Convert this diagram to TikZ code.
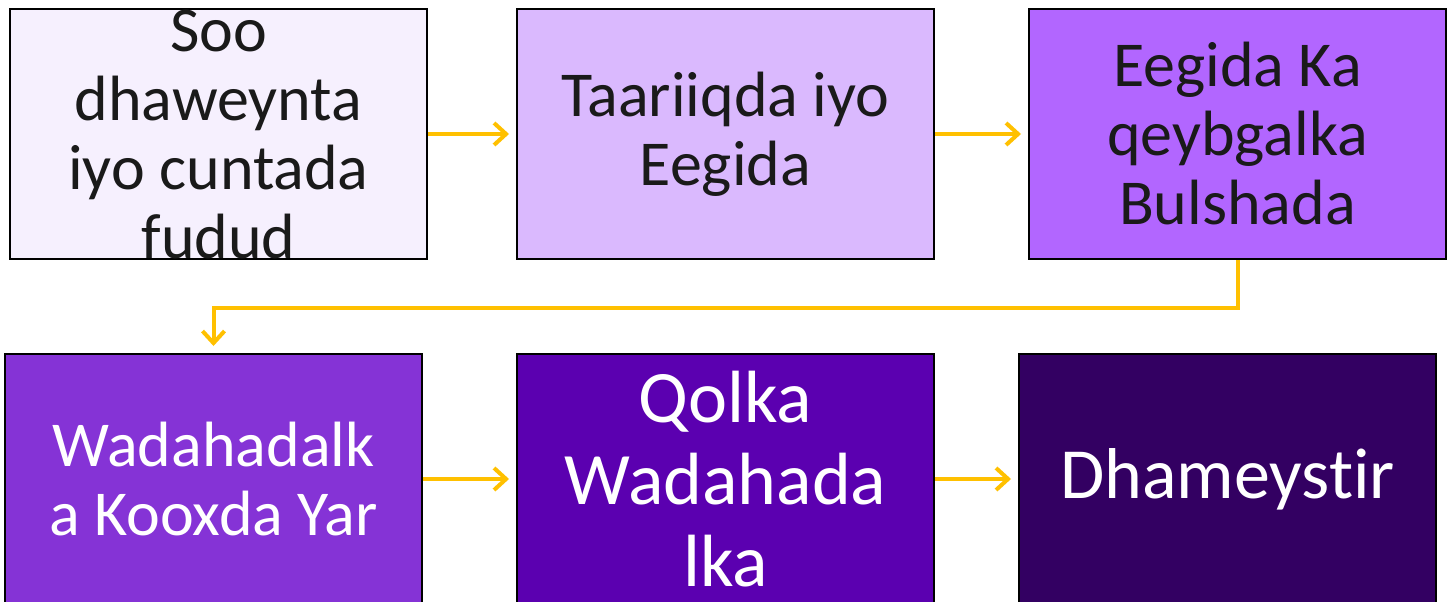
\documentclass[tikz,border=0pt]{standalone}
\usepackage{fontspec}
\setmainfont[RawFeature={-liga;-clig}]{Carlito}
\usetikzlibrary{arrows.meta}
\definecolor{cA}{HTML}{F6F0FE}
\definecolor{cB}{HTML}{DAB9FE}
\definecolor{cC}{HTML}{B266FF}
\definecolor{cD}{HTML}{8533D6}
\definecolor{cE}{HTML}{5B00B0}
\definecolor{cF}{HTML}{330062}
\definecolor{arr}{HTML}{FFC000}
\definecolor{ink}{HTML}{1A1A1A}
\tikzset{
  box/.style={draw=black, line width=2pt, minimum width=417pt, minimum height=250pt,
    inner sep=0pt, align=center, font=\fontsize{64}{69}\selectfont},
  bigtext/.style={font=\fontsize{74}{82}\selectfont},
  hugetext/.style={font=\fontsize{72}{82}\selectfont},
  flow/.style={draw=arr, line width=4pt, -{Straight Barb[length=12pt,width=22pt,line width=4pt]}, shorten >=7pt}
}
\begin{document}
\begin{tikzpicture}[x=1pt,y=-1pt]
\useasboundingbox (0,0) rectangle (1452,602);
\clip (0,0) rectangle (1452,602);
\node[box, fill=cA, text=ink] (b1) at (218.5,134) {Soo\\dhaweynta\\iyo cuntada\\fudud};
\node[box, fill=cB, text=ink] (b2) at (725.5,134) {Taariiqda iyo\\Eegida};
\node[box, fill=cC, text=ink] (b3) at (1237.5,134) {Eegida Ka\\qeybgalka\\Bulshada};
\node[box, fill=cD, text=white] (b4) at (213.5,479) {Wadahadalk\\a Kooxda Yar};
\node[box, bigtext, fill=cE, text=white] (b5) at (725.5,479) {Qolka\\Wadahada\\lka};
\node[box, hugetext, fill=cF, text=white] (b6) at (1227.5,479) {Dhameystir};
\draw[flow] (b1.east) -- (b2.west);
\draw[flow] (b2.east) -- (b3.west);
\draw[flow] (b3.south) -- ++(0,48) -| (b4.north);
\draw[flow] (b4.east) -- (b5.west);
\draw[flow] (b5.east) -- (b6.west);
\end{tikzpicture}
\end{document}
